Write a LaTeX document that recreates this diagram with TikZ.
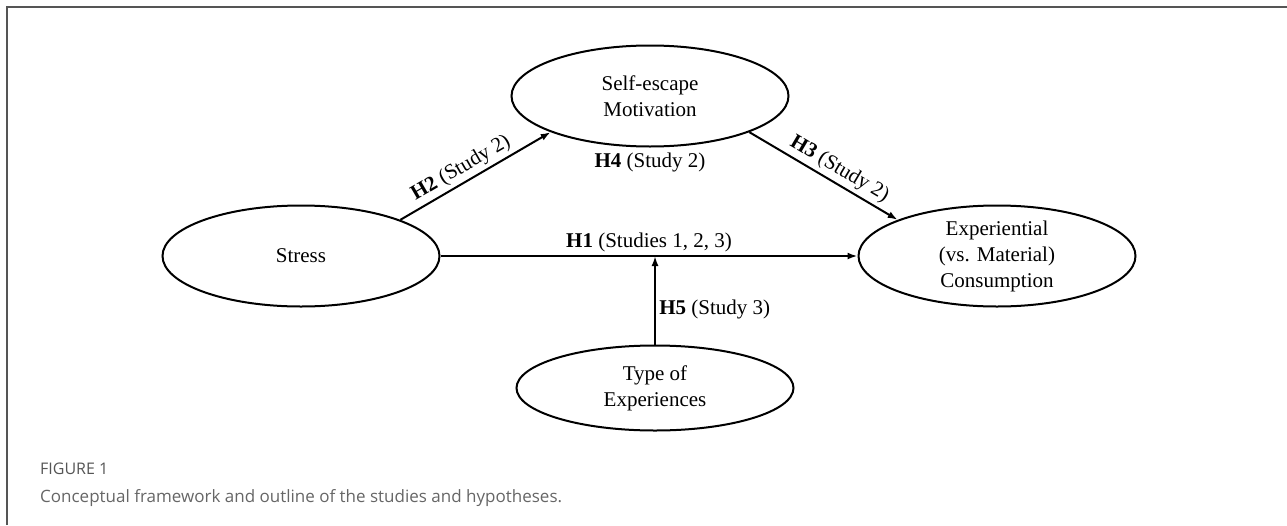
\documentclass[tikz,border=0pt]{standalone}
\usepackage{fontspec}
\setmainfont{Liberation Serif}
\newfontfamily\capfont{Open Sans}
\usetikzlibrary{positioning,shapes.geometric,arrows.meta}
\definecolor{framegray}{HTML}{555555}
\definecolor{capgray}{HTML}{666666}
\tikzset{
	latent/.style={ellipse, draw, line width=2pt, minimum width=277pt, minimum height=101pt,
		align=center, inner sep=0pt, font=\fontsize{21}{26}\selectfont},
	hyp/.style={font=\fontsize{21}{26}\selectfont},
	link/.style={-{Latex[length=10pt,width=7pt]}, line width=2pt}
}
\begin{document}
\begin{tikzpicture}[x=1pt,y=-1pt]
	\useasboundingbox (0,0) rectangle (1287,525);
	\draw[framegray, line width=1.5pt] (7,525) -- (7,7) -- (1287,7);
	\node[latent] (stress) at (301,256) {Stress};
	\node[latent] (self) at (650,96) {Self-escape\\Motivation};
	\node[latent] (exp) at (997,256) {Experiential\\(vs. Material)\\Consumption};
	\node[latent, minimum height=85pt] (type) at (655,388) {Type of\\Experiences};
	\coordinate (mod) at (type.north |- stress.east);
	\path[link]
	(stress.20) edge node[hyp, sloped, above, pos=0.45] {\textbf{H2} (Study 2)} (self.200)
	(self.340) edge node[hyp, sloped, above, pos=0.56] {\textbf{H3} (Study 2)} (exp.160)
	(stress) edge node[hyp, above] {\textbf{H1} (Studies 1, 2, 3)} (exp)
	(type) edge node[hyp, right, pos=0.4] {\textbf{H5} (Study 3)} (mod);
	\node[hyp, below=2pt of self] (h4) {\textbf{H4} (Study 2)};
	\node[anchor=base west, inner sep=0pt, text=framegray, font=\capfont\fontsize{16}{19}\selectfont] (figlabel) at (40,474) {FIGURE 1};
	\node[anchor=base west, inner sep=0pt, text=capgray, font=\capfont\fontsize{17}{20}\selectfont] (caption) at (40,502) {Conceptual framework and outline of the studies and hypotheses.};
\end{tikzpicture}
\end{document}
